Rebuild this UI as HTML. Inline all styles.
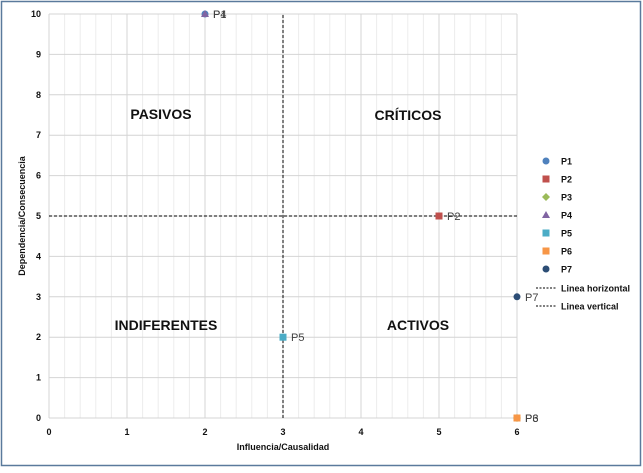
<!DOCTYPE html>
<html><head><meta charset="utf-8"><style>
body{margin:0;background:#fff;font-family:"Liberation Sans",Arial,sans-serif}
svg text{font-family:"Liberation Sans",Arial,sans-serif}
</style></head><body>
<svg width="643" height="468" viewBox="0 0 643 468">
<rect x="1.5" y="1.5" width="639" height="464" fill="#fff" stroke="#5a7a9c" stroke-width="1.5"/>
<g id="grid"></g><g id="axes"></g><g id="marks"></g><g id="legend"></g>
<text x="161" y="119" font-size="14" font-weight="bold" text-anchor="middle" fill="#111">PASIVOS</text>
<text x="408" y="120" font-size="14" font-weight="bold" text-anchor="middle" fill="#111">CRÍTICOS</text>
<text x="166" y="330" font-size="14" font-weight="bold" text-anchor="middle" fill="#111">INDIFERENTES</text>
<text x="418" y="330" font-size="14" font-weight="bold" text-anchor="middle" fill="#111">ACTIVOS</text>
<text x="283" y="450" font-size="9" font-weight="bold" text-anchor="middle" fill="#111">Influencia/Causalidad</text>
<text x="0" y="0" font-size="9" font-weight="bold" text-anchor="middle" fill="#111" transform="translate(25,216) rotate(-90)">Dependencia/Consecuencia</text>
</svg>
<script>
const names=["P1","P2","P3","P4","P5","P6","P7"];
const xVals=[2,5,6,2,3,6,6];
const yVals=[10,5,0,10,2,0,3];
const colors=["#4f81bd","#c0504d","#9bbb59","#8064a2","#4bacc6","#f79646","#2c4d75"];
const shapes=["circle","square","diamond","triangle","square","square","circle"];
const xTicks=[0,1,2,3,4,5,6];
const yTicks=[0,1,2,3,4,5,6,7,8,9,10];
const hLine=5, vLine=3;
const NS="http://www.w3.org/2000/svg";
const X0=49,X1=517,Y0=418,Y1=14;
const sx=v=>X0+(v-0)/6*(X1-X0);
const sy=v=>Y0-(v-0)/10*(Y0-Y1);
function mk(t,a,p){const e=document.createElementNS(NS,t);for(const k in a)e.setAttribute(k,a[k]);p.appendChild(e);return e;}
const grid=document.getElementById('grid'),axes=document.getElementById('axes'),marks=document.getElementById('marks'),leg=document.getElementById('legend');
for(let i=0;i<=30;i++){const x=sx(i*0.2);if(i%5===0)continue;
const l=mk('line',{x1:x,x2:x,y1:sy(10),y2:sy(0),stroke:'#ececec','stroke-width':1},grid);
}
xTicks.forEach(t=>{const l=mk('line',{x1:sx(t),x2:sx(t),y1:sy(10),y2:sy(0),stroke:'#d4d4d4','stroke-width':1},grid);

const tx=mk('text',{x:sx(t),y:435,'font-size':9,'font-weight':'bold','text-anchor':'middle',fill:'#111'},axes);tx.textContent=t;
});
yTicks.forEach(t=>{const l=mk('line',{x1:sx(0),x2:sx(6),y1:sy(t),y2:sy(t),stroke:'#d4d4d4','stroke-width':1},grid);

const tx=mk('text',{x:41,y:sy(t)+3,'font-size':9,'font-weight':'bold','text-anchor':'end',fill:'#111'},axes);tx.textContent=t;
});
let h=mk('line',{x1:sx(0),x2:sx(6),y1:sy(hLine),y2:sy(hLine),stroke:'#000','stroke-dasharray':'3,2','stroke-width':1},marks);

let v=mk('line',{x1:sx(vLine),x2:sx(vLine),y1:sy(0),y2:sy(10),stroke:'#000','stroke-dasharray':'3,2','stroke-width':1},marks);

function marker(shape,x,y,c,p){let e;
if(shape==='circle')e=mk('circle',{cx:x,cy:y,r:3.5,fill:c},p);
else if(shape==='square')e=mk('rect',{x:x-3.5,y:y-3.5,width:7,height:7,fill:c},p);
else if(shape==='diamond')e=mk('polygon',{points:`${x},${y-4} ${x+4},${y} ${x},${y+4} ${x-4},${y}`,fill:c},p);
else e=mk('polygon',{points:`${x},${y-4} ${x+4},${y+3} ${x-4},${y+3}`,fill:c},p);return e;}
names.forEach((n,i)=>{const x=sx(xVals[i]),y=sy(yVals[i]);
const m=marker(shapes[i],x,y,colors[i],marks);

const t=mk('text',{x:x+8,y:y+4,'font-size':11,fill:'#404040'},marks);t.textContent=n;

const ly=161+i*18;const lm=marker(shapes[i],546,ly,colors[i],leg);

const lt=mk('text',{x:561,y:ly+3.5,'font-size':9,'font-weight':'bold',fill:'#111'},leg);lt.textContent=n;
});
["Linea horizontal","Linea vertical"].forEach((s,i)=>{const ly=288+i*18;
const l=mk('line',{x1:536,x2:556,y1:ly,y2:ly,stroke:'#000','stroke-dasharray':'2,1.5'},leg);

const t=mk('text',{x:561,y:ly+3.5,'font-size':9,'font-weight':'bold',fill:'#111'},leg);t.textContent=s;
});
</script>
</body></html>
